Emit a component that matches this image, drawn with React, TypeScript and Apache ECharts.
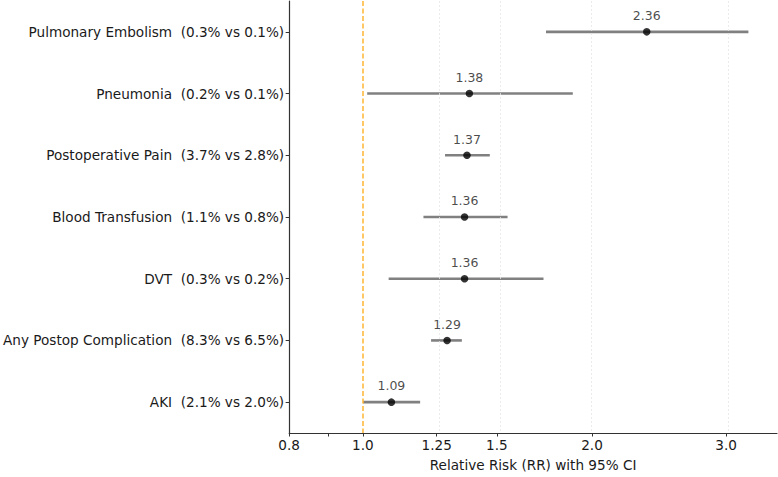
import React, { useEffect, useRef } from "react";
import * as echarts from "echarts";

const categories = [
  "Pulmonary Embolism",
  "Pneumonia",
  "Postoperative Pain",
  "Blood Transfusion",
  "DVT",
  "Any Postop Complication",
  "AKI",
];
const rates = [
  "(0.3% vs 0.1%)",
  "(0.2% vs 0.1%)",
  "(3.7% vs 2.8%)",
  "(1.1% vs 0.8%)",
  "(0.3% vs 0.2%)",
  "(8.3% vs 6.5%)",
  "(2.1% vs 2.0%)",
];
const rr = [2.36, 1.38, 1.37, 1.36, 1.36, 1.29, 1.09];
const ciLow = [1.74, 1.013, 1.282, 1.201, 1.081, 1.229, 1.0];
const ciHigh = [3.21, 1.887, 1.468, 1.549, 1.727, 1.349, 1.189];
const xTickValues = [0.8, 1.0, 1.25, 1.5, 2.0, 3.0];
const xTickLabels = ["0.8", "1.0", "1.25", "1.5", "2.0", "3.0"];
const xMinorTicks = [0.9];
const gridValues = [1.25, 1.5, 2.0, 3.0];
const refValue = 1.0;
const xMin = 0.8;
const xMax = 3.5;

const L = (v: number) => Math.log10(v);
const FONT = "DejaVu Sans";

export default function App() {
  const ref = useRef<HTMLDivElement>(null);
  useEffect(() => {
    if (!ref.current) return;
    const chart = echarts.init(ref.current, undefined, { renderer: "svg" });
    const idx = categories.map((_, i) => i);
    const option: any = {
      animation: false,
      grid: { left: 287, right: 1, top: 1, bottom: 39, containLabel: false },
      xAxis: {
        type: "value",
        min: L(xMin),
        max: L(xMax),
        name: "Relative Risk (RR) with 95% CI",
        nameLocation: "middle",
        nameGap: 25,
        nameTextStyle: { fontFamily: FONT, fontSize: 13.6, color: "#1a1a1a" },
        axisLine: { show: true, onZero: false, lineStyle: { color: "#333", width: 1.2 } },
        axisTick: {
          show: true,
          length: 3.5,
          customValues: [...xTickValues, ...xMinorTicks].map(L),
          lineStyle: { color: "#333", width: 1 },
        },
        axisLabel: {
          customValues: xTickValues.map(L),
          margin: 5,
          fontFamily: FONT,
          fontSize: 13.6,
          color: "#1a1a1a",
          formatter: (v: number) => {
            let best = 0;
            xTickValues.forEach((t, i) => {
              if (Math.abs(L(t) - v) < Math.abs(L(xTickValues[best]) - v)) best = i;
            });
            return xTickLabels[best];
          },
        },
        splitLine: { show: false },
      },
      yAxis: {
        type: "value",
        inverse: true,
        min: -0.5,
        max: 6.5,
        axisLine: { show: true, onZero: false, lineStyle: { color: "#333", width: 1.2 } },
        axisTick: { show: true, length: 3.5, customValues: idx, lineStyle: { color: "#333" } },
        axisLabel: {
          customValues: idx,
          margin: 5,
          fontFamily: FONT,
          fontSize: 13.6,
          color: "#1a1a1a",
          formatter: (v: number) => {
            const i = Math.round(v);
            return categories[i] + "  " + rates[i];
          },
        },
        splitLine: { show: false },
      },
      series: [
        {
          type: "custom",
          data: idx.map((i) => [L(ciLow[i]), L(ciHigh[i]), i]),
          renderItem: (params: any, api: any) => {
            const p1 = api.coord([api.value(0), api.value(2)]);
            const p2 = api.coord([api.value(1), api.value(2)]);
            return {
              type: "line",
              shape: { x1: p1[0], y1: p1[1], x2: p2[0], y2: p2[1] },
              style: { stroke: "#808080", lineWidth: 2.6 },
            };
          },
          z: 3,
          markLine: {
            silent: true,
            symbol: "none",
            label: { show: false },
            data: [
              ...gridValues.map((g) => ({
                xAxis: L(g),
                lineStyle: { color: "#e6e6e6", type: [2, 2], width: 0.8 },
              })),
              {
                xAxis: L(refValue),
                lineStyle: { color: "#ffb733", type: [5, 2.5], width: 1.5 },
              },
            ],
          },
        },
        {
          type: "scatter",
          data: idx.map((i) => [L(rr[i]), i, rr[i]]),
          symbol: "circle",
          symbolSize: 7.5,
          itemStyle: { color: "#000" },
          z: 5,
          label: {
            show: true,
            position: "top",
            distance: 6,
            fontFamily: FONT,
            fontSize: 12.5,
            color: "#1a1a1a",
            formatter: (p: any) => p.value[2].toFixed(2),
          },
        },
      ],
    };
    chart.setOption(option);
    return () => chart.dispose();
  }, []);
  return (
    <div
      ref={ref}
      style={{ position: "fixed", left: 0, top: 0, width: 778, height: 477, background: "#fff" }}
    />
  );
}
